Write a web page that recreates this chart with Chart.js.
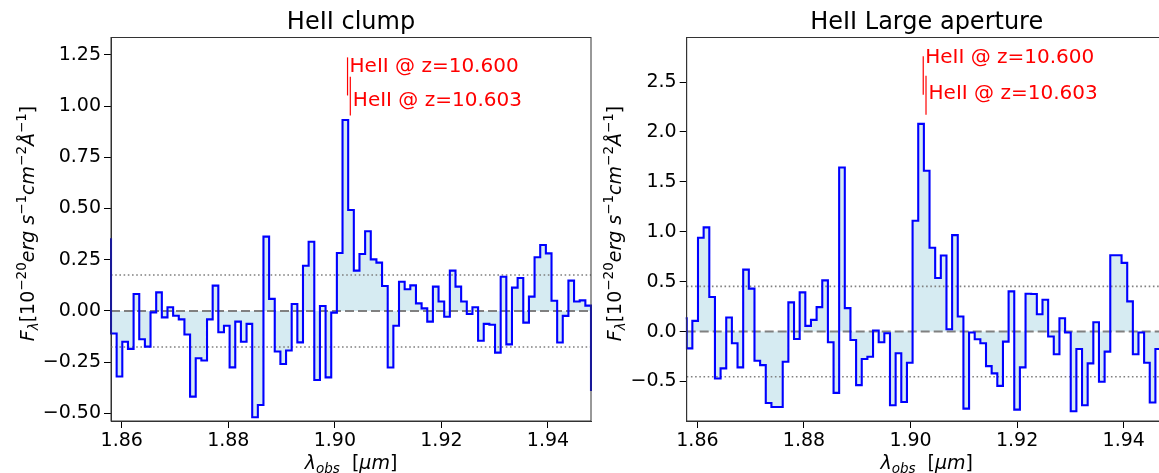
<!DOCTYPE html>
<html>
<head>
<meta charset="utf-8">
<script src="https://cdn.jsdelivr.net/npm/chart.js@4.4.1/dist/chart.umd.min.js"></script>
<style>
  html, body { margin: 0; padding: 0; background: #fff; overflow: hidden; width: 1159px; height: 473px; }
  #c1 { position: absolute; left: 0; top: 0; }
  #c2 { position: absolute; left: 600px; top: 0; }
</style>
</head>
<body>
<canvas id="c1" width="600" height="473"></canvas>
<canvas id="c2" width="580" height="473"></canvas>
<script>
// Bin left edges (µm), first entry is the bin just left of the axis, last entry is the right edge of the last bin
const wavelength = [
  1.85693, 1.85799, 1.85905, 1.86011, 1.86117, 1.86223, 1.86329, 1.86435, 1.86541, 1.86647, 1.86753,
  1.86859, 1.86965, 1.87071, 1.87177, 1.87283, 1.87389, 1.87495, 1.87601, 1.87707, 1.87813,
  1.87919, 1.88025, 1.88131, 1.88237, 1.88343, 1.88449, 1.88555, 1.88660, 1.88766, 1.88872,
  1.88978, 1.89084, 1.89190, 1.89296, 1.89402, 1.89508, 1.89614, 1.89720, 1.89826, 1.89932,
  1.90038, 1.90144, 1.90250, 1.90356, 1.90462, 1.90568, 1.90674, 1.90780, 1.90886, 1.90992,
  1.91098, 1.91204, 1.91310, 1.91416, 1.91522, 1.91628, 1.91734, 1.91840, 1.91946, 1.92052,
  1.92158, 1.92264, 1.92370, 1.92476, 1.92582, 1.92688, 1.92794, 1.92900, 1.93006, 1.93112,
  1.93218, 1.93324, 1.93430, 1.93536, 1.93642, 1.93748, 1.93854, 1.93960, 1.94066, 1.94172,
  1.94277, 1.94383, 1.94489, 1.94595, 1.94701, 1.94807, 1.94913
];

const fluxClump = [
  0.350, -0.110, -0.320, -0.150, -0.185, 0.083, -0.138, -0.174, -0.007, 0.091, -0.031,
  0.018, -0.023, -0.041, -0.115, -0.418, -0.231, -0.242, -0.041, 0.124, -0.104,
  -0.072, -0.275, -0.052, -0.150, -0.063, -0.519, -0.459, 0.363, 0.059, -0.198,
  -0.259, -0.193, 0.034, -0.153, 0.221, 0.338, -0.337, 0.024, -0.324, -0.008,
  0.283, 0.932, 0.493, 0.197, 0.278, 0.389, 0.252, 0.236, 0.122, -0.276,
  -0.072, 0.143, 0.106, 0.125, 0.037, 0.013, -0.052, 0.119, 0.046, -0.028,
  0.197, 0.119, 0.046, -0.015, 0.018, -0.145, -0.063, -0.067, -0.203, 0.167,
  -0.163, 0.114, 0.161, -0.057, 0.070, 0.262, 0.322, 0.281, 0.050, -0.154,
  -0.024, 0.148, 0.046, 0.052, 0.026, -0.390
];

const fluxLarge = [
  0.134, -0.168, 0.107, 0.940, 1.044, 0.346, -0.470, -0.369, 0.141, -0.117, -0.359,
  0.621, 0.430, -0.292, -0.336, -0.715, -0.755, -0.755, -0.302, 0.292, -0.074,
  0.393, 0.057, 0.117, 0.245, 0.513, -0.107, -0.614, 1.644, 0.235, -0.084,
  -0.537, -0.275, -0.252, 0.010, -0.107, -0.017, -0.738, -0.218, -0.705, -0.312,
  1.110, 2.081, 1.611, 0.839, 0.537, 0.762, 0.023, 0.966, 0.151, -0.772,
  -0.010, -0.077, -0.117, -0.346, -0.419, -0.544, -0.101, 0.403, -0.782, -0.359,
  0.379, 0.376, 0.174, 0.319, -0.050, -0.228, 0.134, -0.010, -0.799, -0.174,
  -0.738, -0.319, 0.094, -0.503, -0.201, 0.765, 0.765, 0.688, 0.302, -0.228,
  -0.010, -0.312, -0.711, -0.174, -0.200, -0.200
];

const noiseClump = 0.176;
const noiseLarge = 0.453;

const xTicks = [1.86, 1.88, 1.90, 1.92, 1.94];
const yTicksClump = [-0.50, -0.25, 0.00, 0.25, 0.50, 0.75, 1.00, 1.25];
const yTicksLarge = [-0.5, 0.0, 0.5, 1.0, 1.5, 2.0, 2.5];

const lineLabels = ['HeII @ z=10.600', 'HeII @ z=10.603'];
const lineWave = [1.90238, 1.90290];

const titles = ['HeII clump', 'HeII Large aperture'];

const FONT = "'DejaVu Sans', sans-serif";
Chart.defaults.font.family = FONT;
Chart.defaults.color = '#000';

function fontStr(s) {
  return (s.it ? 'italic ' : '') + s.sz + 'px ' + FONT;
}
function drawRich(ctx, segs, x, y, align) {
  let w = 0;
  segs.forEach(s => { ctx.font = fontStr(s); s.w = ctx.measureText(s.t).width; w += s.w; });
  let cx = align === 'center' ? x - w / 2 : x;
  ctx.textAlign = 'left';
  ctx.textBaseline = 'alphabetic';
  segs.forEach(s => { ctx.font = fontStr(s); ctx.fillText(s.t, cx, y + (s.dy || 0)); cx += s.w; });
}

const M = 19, S = 13.5;
function yLabelSegs() {
  return [
    {t: 'F', it: true, sz: M}, {t: 'λ', it: true, sz: S, dy: 4},
    {t: '[10', sz: M}, {t: '−20', sz: S, dy: -8},
    {t: 'erg', it: true, sz: M}, {t: ' ', sz: M}, {t: 's', it: true, sz: M}, {t: '−1', sz: S, dy: -8},
    {t: 'cm', it: true, sz: M}, {t: '−2', sz: S, dy: -8},
    {t: 'Å', it: true, sz: M}, {t: '−1', sz: S, dy: -8}, {t: ']', sz: M}
  ];
}
function xLabelSegs() {
  return [
    {t: 'λ', it: true, sz: M}, {t: 'obs', it: true, sz: S, dy: 4},
    {t: '  [', sz: M}, {t: 'μm', it: true, sz: M}, {t: ']', sz: M}
  ];
}

function makeChart(id, vals, yTicks, yMin, yMax, noise, fmt, cfg) {
  const xMin = 1.85799, xMax = 1.94807;
  const pts = wavelength.map((x, k) => ({x: x, y: vals[Math.min(k, vals.length - 1)]}));
  const hline = (v) => [{x: xMin, y: v}, {x: xMax, y: v}];

  const deco = {
    id: 'deco' + id,
    afterDraw(chart) {
      const ctx = chart.ctx, a = chart.chartArea;
      const xs = chart.scales.x, ys = chart.scales.y;
      ctx.save();
      // frame
      ctx.strokeStyle = '#333';
      ctx.lineWidth = 1;
      ctx.strokeRect(a.left, a.top, a.right - a.left, a.bottom - a.top);
      // red line markers
      ctx.strokeStyle = '#ff0000';
      ctx.lineWidth = 1.2;
      cfg.marks.forEach((m, k) => {
        const px = xs.getPixelForValue(lineWave[k]);
        ctx.beginPath();
        ctx.moveTo(px, ys.getPixelForValue(m.y0));
        ctx.lineTo(px, ys.getPixelForValue(m.y1));
        ctx.stroke();
        ctx.fillStyle = '#ff0000';
        ctx.font = '20px ' + FONT;
        ctx.textAlign = 'left';
        ctx.textBaseline = 'alphabetic';
        ctx.fillText(lineLabels[k], xs.getPixelForValue(m.tx), ys.getPixelForValue(m.ty));
      });
      // title
      ctx.fillStyle = '#000';
      ctx.font = '24px ' + FONT;
      ctx.textAlign = 'center';
      ctx.textBaseline = 'alphabetic';
      ctx.fillText(cfg.title, (a.left + a.right) / 2, a.top - 9);
      // x label
      drawRich(ctx, xLabelSegs(), (a.left + a.right) / 2, 469, 'center');
      // y label
      ctx.translate(cfg.ylabX, 223.5);
      ctx.rotate(-Math.PI / 2);
      drawRich(ctx, yLabelSegs(), 0, 0, 'center');
      ctx.restore();
    }
  };

  return new Chart(document.getElementById(id), {
    type: 'line',
    data: {
      datasets: [
        {
          data: pts, stepped: 'before', borderColor: '#0000ff', borderWidth: 2.1,
          backgroundColor: 'rgba(173,216,230,0.5)', fill: {value: 0},
          pointRadius: 0, order: 0, clip: 1
        },
        { data: hline(0), borderColor: '#808080', borderWidth: 2, borderDash: [9, 4], pointRadius: 0, fill: false, order: 1 },
        { data: hline(noise), borderColor: '#808080', borderWidth: 1.6, borderDash: [1.6, 2.6], pointRadius: 0, fill: false, order: 1 },
        { data: hline(-noise), borderColor: '#808080', borderWidth: 1.6, borderDash: [1.6, 2.6], pointRadius: 0, fill: false, order: 1 }
      ]
    },
    options: {
      responsive: false,
      animation: false,
      events: [],
      layout: { padding: { left: 0, right: cfg.padRight, top: 37.5, bottom: 0 } },
      plugins: { legend: { display: false }, tooltip: { enabled: false }, filler: { drawTime: 'beforeDatasetsDraw' } },
      scales: {
        x: {
          type: 'linear', min: xMin, max: xMax,
          afterFit: (s) => { s.height = 52; },
          afterBuildTicks: (s) => { s.ticks = xTicks.map(v => ({value: v})); },
          ticks: { font: { size: 19 }, color: '#000', padding: 2, maxRotation: 0, autoSkip: false,
                   callback: (v) => v.toFixed(2) },
          grid: { drawOnChartArea: false, drawTicks: true, tickLength: 7, tickColor: '#000', tickWidth: 1 },
          border: { display: true, color: '#333' }
        },
        y: {
          type: 'linear', min: yMin, max: yMax,
          afterFit: (s) => { s.width = cfg.yWidth; },
          afterBuildTicks: (s) => { s.ticks = yTicks.map(v => ({value: v})); },
          ticks: { font: { size: 19 }, color: '#000', padding: 3, autoSkip: false,
                   callback: (v) => fmt(v) },
          grid: { drawOnChartArea: false, drawTicks: true, tickLength: 7, tickColor: '#000', tickWidth: 1 },
          border: { display: true, color: '#333' }
        }
      }
    },
    plugins: [deco]
  });
}

const minus = (s) => s.replace('-', '−');

makeChart('c1', fluxClump, yTicksClump, -0.537, 1.335, noiseClump,
  (v) => minus(v.toFixed(2)),
  { title: titles[0], padRight: 9, yWidth: 111, ylabX: 34,
    marks: [ {y0: 1.052, y1: 1.238, tx: 1.90276, ty: 1.165}, {y0: 0.954, y1: 1.144, tx: 1.90338, ty: 1.003} ] });

makeChart('c2', fluxLarge, yTicksLarge, -0.896, 2.946, noiseLarge,
  (v) => minus(v.toFixed(1)),
  { title: titles[1], padRight: 580 - 566.7, yWidth: 86.7, ylabX: 21,
    marks: [ {y0: 2.373, y1: 2.758, tx: 1.90274, ty: 2.692}, {y0: 2.173, y1: 2.564, tx: 1.90338, ty: 2.334} ] });
</script>
</body>
</html>
